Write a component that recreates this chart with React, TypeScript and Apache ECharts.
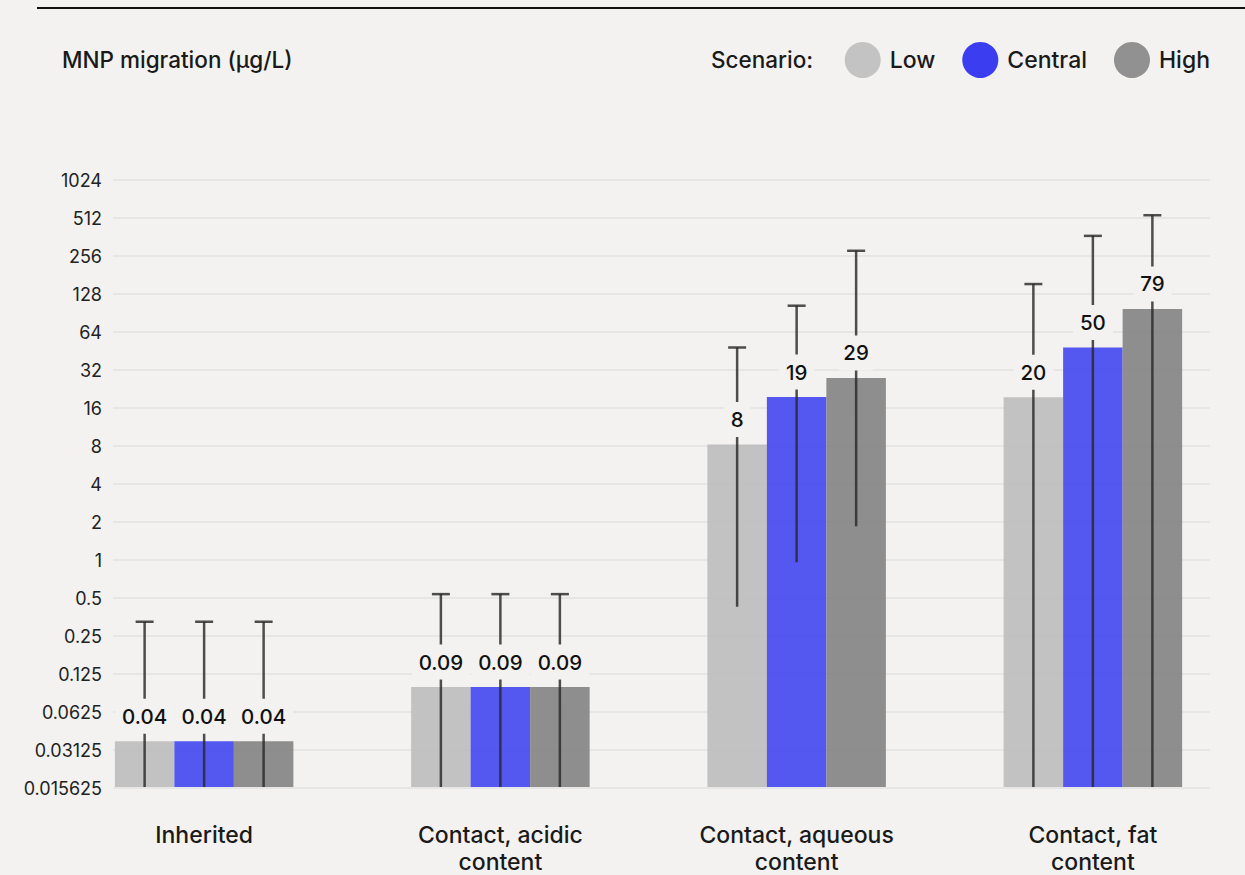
import React, { useEffect, useRef } from "react";
import * as echarts from "echarts";

const categories = [
  "Inherited",
  "Contact, acidic\ncontent",
  "Contact, aqueous\ncontent",
  "Contact, fat\ncontent",
];
const scenarios = ["Low", "Central", "High"];
const legendColors = ["#c4c3c3", "#3a3ef0", "#919191"];
const barColors = ["#bebdbd", "#4247ef", "#838383"];

const lowValues = [0.036, 0.097, 8.15, 19.3];
const centralValues = [0.036, 0.097, 19.4, 48];
const highValues = [0.036, 0.097, 27.5, 97];

const lowLabels = ["0.04", "0.09", "8", "20"];
const centralLabels = ["0.04", "0.09", "19", "50"];
const highLabels = ["0.04", "0.09", "29", "79"];

const lowErrLower = [0.0156, 0.01, 0.42, 0.01];
const lowErrUpper = [0.32, 0.53, 48, 153];
const centralErrLower = [0.0156, 0.01, 0.95, 0.01];
const centralErrUpper = [0.32, 0.53, 103, 369];
const highErrLower = [0.0156, 0.01, 1.83, 0.01];
const highErrUpper = [0.32, 0.53, 281, 538];

const yTicks = [0.015625, 0.03125, 0.0625, 0.125, 0.25, 0.5, 1, 2, 4, 8, 16, 32, 64, 128, 256, 512, 1024];
const yTickLabels = ["0.015625", "0.03125", "0.0625", "0.125", "0.25", "0.5", "1", "2", "4", "8", "16", "32", "64", "128", "256", "512", "1024"];

const FONT = "Inter, 'Noto Sans', sans-serif";
const BG = "#f3f2f0";
const BAR_W = 59.5;

export default function App() {
  const ref = useRef<HTMLDivElement>(null);
  useEffect(() => {
    if (!ref.current) return;
    const chart = echarts.init(ref.current, null, { renderer: "svg" });
    const values = [lowValues, centralValues, highValues];
    const labels = [lowLabels, centralLabels, highLabels];
    const lowers = [lowErrLower, centralErrLower, highErrLower];
    const uppers = [lowErrUpper, centralErrUpper, highErrUpper];

    const tickLabel = (v: number) => {
      let best = 0;
      let bd = Infinity;
      yTicks.forEach((t, i) => {
        const d = Math.abs(Math.log2(t) - Math.log2(v));
        if (d < bd) { bd = d; best = i; }
      });
      return yTickLabels[best];
    };

    const series = scenarios.map((name, s) => ({
      name,
      type: "custom",
      xAxisIndex: 1,
      yAxisIndex: 1,
      z: 3 + s,
      itemStyle: { color: legendColors[s] },
      encode: { x: 0, y: [1, 2, 3] },
      data: categories.map((_, i) => [i, lowers[s][i], uppers[s][i], values[s][i]]),
      renderItem: (params: any, api: any) => {
        const cat = api.value(0);
        const lo = api.value(1);
        const hi = api.value(2);
        const val = api.value(3);
        const cs = params.coordSys;
        const bottom = cs.y + cs.height;
        const base = api.coord([cat, val]);
        const x = base[0] + (s - 1) * BAR_W;
        const topY = api.coord([cat, hi])[1];
        const botY = Math.min(api.coord([cat, lo])[1], bottom);
        const lineStyle = { stroke: "rgba(40,40,40,0.82)", lineWidth: 2.5 };
        return {
          type: "group",
          children: [
            {
              type: "rect",
              shape: { x: x - BAR_W / 2, y: base[1], width: BAR_W, height: bottom - base[1] },
              style: { fill: barColors[s], opacity: 0.9 },
            },
            { type: "line", shape: { x1: x, y1: topY, x2: x, y2: botY }, style: lineStyle },
            { type: "line", shape: { x1: x - 9, y1: topY, x2: x + 9, y2: topY }, style: lineStyle },
            {
              type: "text",
              x,
              y: base[1] - 25,
              style: {
                text: labels[s][params.dataIndex],
                align: "center",
                verticalAlign: "middle",
                fontSize: 20.5,
                fontWeight: 500,
                fontFamily: FONT,
                fill: "#111",
                backgroundColor: BG,
                padding: [7, 7],
                borderRadius: 5,
              },
            },
          ],
        };
      },
    }));

    chart.setOption({
      animation: false,
      backgroundColor: BG,
      textStyle: { fontFamily: FONT },
      graphic: [
        { type: "line", shape: { x1: 37, y1: 8, x2: 1245, y2: 8 }, style: { stroke: "#111", lineWidth: 2 } },
        {
          type: "text", left: 62, top: 48,
          style: { text: "MNP migration (µg/L)", fontSize: 22.5, fontWeight: 500, fontFamily: FONT, fill: "#1a1a1a" },
        },
        {
          type: "text", left: 711, top: 48,
          style: { text: "Scenario:", fontSize: 22.5, fontWeight: 500, fontFamily: FONT, fill: "#1a1a1a" },
        },
      ],
      legend: {
        right: 35,
        top: 42,
        padding: 0,
        icon: "circle",
        itemWidth: 36,
        itemHeight: 36,
        itemGap: 27,
        textStyle: { fontSize: 23, fontWeight: 500, fontFamily: FONT, color: "#1a1a1a", padding: [0, 0, 0, 4] },
        data: scenarios.map((n, s) => ({ name: n, itemStyle: { color: legendColors[s], opacity: 1 } })),
      },
      grid: [
        { left: 113, right: 35, top: 180, bottom: 87 },
        { left: 56, right: 4, top: 180, bottom: 87 },
      ],
      xAxis: [
        { type: "value", gridIndex: 0, show: false, min: 0, max: 1 },
        {
          type: "category",
          gridIndex: 1,
          data: categories,
          axisLine: { show: false },
          axisTick: { show: false },
          splitLine: { show: false },
          axisLabel: {
            margin: 34,
            fontSize: 23,
            lineHeight: 27,
            fontWeight: 500,
            fontFamily: FONT,
            color: "#1a1a1a",
            verticalAlign: "top",
          },
        },
      ],
      yAxis: [
        {
          type: "log",
          gridIndex: 0,
          logBase: 2,
          min: 0.015625,
          max: 1024,
          interval: 1,
          axisLine: { show: false },
          axisTick: { show: false },
          splitLine: { show: true, lineStyle: { color: "#e1e2e2", width: 1.5 } },
          axisLabel: {
            margin: 11,
            fontSize: 18,
            fontFamily: FONT,
            color: "#222",
            formatter: (v: number) => tickLabel(v),
          },
        },
        {
          type: "log",
          gridIndex: 1,
          logBase: 2,
          min: 0.015625,
          max: 1024,
          show: false,
          splitLine: { show: false },
        },
      ],
      series,
    });
    return () => chart.dispose();
  }, []);
  return (
    <div
      ref={ref}
      style={{ position: "fixed", left: 0, top: 0, width: 1245, height: 875, background: BG }}
    />
  );
}
